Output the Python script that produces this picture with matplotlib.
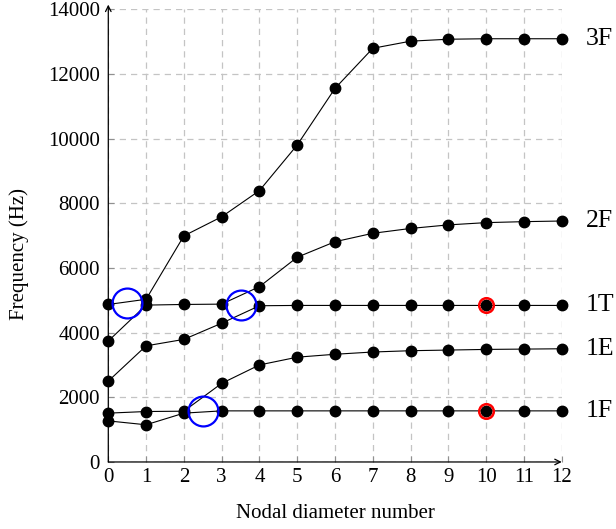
import numpy as np
import matplotlib
matplotlib.use('Agg')
import matplotlib.pyplot as plt

plt.rcParams['font.family'] = ['Liberation Serif', 'DejaVu Serif']

# nodal diameters and mode frequencies (sorted by mode order)
nd = np.arange(0, 13)
mode1 = [1270, 1150, 1510, 1580, 1580, 1580, 1580, 1580, 1580, 1580, 1580, 1580, 1580]
mode2 = [1510, 1560, 1570, 2430, 3000, 3240, 3330, 3400, 3440, 3460, 3480, 3490, 3500]
mode3 = [2500, 3590, 3790, 4290, 4830, 4840, 4840, 4840, 4840, 4840, 4840, 4840, 4840]
mode4 = [3740, 4850, 4870, 4880, 5420, 6330, 6810, 7070, 7220, 7330, 7400, 7430, 7450]
mode5 = [4870, 5030, 6990, 7580, 8390, 9800, 11550, 12790, 13010, 13070, 13085, 13085, 13085]
modes = [mode1, mode2, mode3, mode4, mode5]

# family labels at the right end
fam_labels = ['1F', '1E', '1T', '2F', '3F']
fam_y = [1580, 3490, 4840, 7450, 13085]

# veering zones (blue) and highlighted points (red)
veer_x = [0.5, 3.5, 2.5]
veer_y = [4900, 4860, 1580]
mark_x = [10, 10]
mark_y = [4840, 1580]

fig = plt.figure(figsize=(6.16, 5.29), dpi=100)
ax = fig.add_axes([0.1758, 0.1267, 0.7361, 0.856])

ax.grid(True, color='#c4c4c4', linestyle=(0, (5, 4)), linewidth=0.9, zorder=0)
ax.set_axisbelow(True)

for m in modes:
    ax.plot(nd, m, color='black', linewidth=0.8, marker='o', markersize=7.5,
            markerfacecolor='black', markeredgecolor='black', zorder=3, clip_on=False)

ax.plot(veer_x, veer_y, linestyle='none', marker='o', markersize=21.5,
        markerfacecolor='none', markeredgecolor='#0000ff', markeredgewidth=1.6, zorder=4)
ax.plot(mark_x, mark_y, linestyle='none', marker='o', markersize=10.5,
        markerfacecolor='none', markeredgecolor='#ff0000', markeredgewidth=1.8, zorder=4)

for lab, yv in zip(fam_labels, fam_y):
    ax.text(12.64, yv, lab, fontsize=18.5, va='center', ha='left')

ax.set_xlim(0, 12)
ax.set_ylim(0, 14000)
ax.set_xticks(nd)
ax.set_yticks(np.arange(0, 14001, 2000))
ax.tick_params(direction='in', length=4, width=0.8, color='#909090', labelsize=15)
ax.tick_params(axis='x', pad=4)
ax.tick_params(axis='y', pad=6)

for s in ['top', 'right', 'left', 'bottom']:
    ax.spines[s].set_visible(False)
ax.annotate('', xy=(0, 1.01), xytext=(0, 0), xycoords='axes fraction',
            arrowprops=dict(arrowstyle='->', lw=0.9, color='black', shrinkA=0, shrinkB=0))
ax.annotate('', xy=(1.0, 0), xytext=(0, 0), xycoords='axes fraction',
            arrowprops=dict(arrowstyle='->', lw=0.9, color='black', shrinkA=0, shrinkB=0))

fig.text(335 / 616, 1 - 513 / 529, 'Nodal diameter number', fontsize=15,
         ha='center', va='center')
fig.text(19 / 616, 1 - 254 / 529, 'Frequency (Hz)', fontsize=15,
         ha='center', va='center', rotation=90)

fig.savefig('out.png', dpi=100)
